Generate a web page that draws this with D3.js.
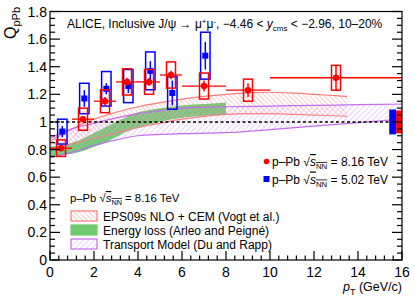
<!DOCTYPE html>
<html>
<head>
<meta charset="utf-8">
<script src="https://cdn.jsdelivr.net/npm/d3@7"></script>
<style>
  body { margin: 0; background: #fff; }
  text { font-family: "Liberation Sans", Arial, sans-serif; }
</style>
</head>
<body>
<script>
'use strict';

// p-Pb 8.16 TeV (red)
let bins816 = [[0, 1], [1, 2], [2, 3], [3, 4], [4, 5], [5, 6], [6, 8], [8, 10], [10, 16]];
let pt816 = [0.5, 1.5, 2.5, 3.5, 4.5, 5.5, 7, 9, 13];
let q816 = [0.81, 1.02, 1.15, 1.29, 1.29, 1.34, 1.26, 1.23, 1.32];
let stat816 = [0.02, 0.02, 0.03, 0.03, 0.03, 0.03, 0.04, 0.05, 0.09];
let sys816 = [0.06, 0.08, 0.083, 0.095, 0.09, 0.095, 0.094, 0.08, 0.09];

// p-Pb 5.02 TeV (blue)
let pt502 = [0.5, 1.5, 2.5, 3.5, 4.5, 5.5, 7];
let q502 = [0.93, 1.17, 1.24, 1.26, 1.37, 1.21, 1.48];
let stat502 = [0.04, 0.06, 0.04, 0.05, 0.07, 0.09, 0.10];
let sys502 = [0.09, 0.11, 0.125, 0.12, 0.137, 0.118, 0.17];

// global uncertainties drawn at the right edge
let globalUnc = [0.09, 0.083];   // 5.02, 8.16

// EPS09s NLO + CEM band
let epsX = [0, 1, 2, 3, 4, 5, 6, 7, 8, 9, 10, 11, 12, 13, 13.5];
let epsHi = [0.86, 0.95, 1.02, 1.07, 1.11, 1.14, 1.165, 1.185, 1.20, 1.21, 1.215, 1.21, 1.20, 1.19, 1.185];
let epsLo = [0.80, 0.84, 0.88, 0.92, 0.96, 0.99, 1.02, 1.04, 1.055, 1.06, 1.06, 1.055, 1.05, 1.045, 1.04];

// energy loss band
let elossX = [0, 0.5, 1, 1.5, 2, 2.5, 3, 3.5, 4, 5, 6, 7, 8];
let elossHi = [0.82, 0.83, 0.85, 0.88, 0.92, 0.96, 1.00, 1.04, 1.07, 1.10, 1.12, 1.13, 1.14];
let elossLo = [0.75, 0.76, 0.77, 0.79, 0.82, 0.85, 0.89, 0.93, 0.96, 1.00, 1.03, 1.045, 1.05];

// transport model band
let transX = [0, 0.5, 1, 2, 3, 4, 5, 6, 8, 10, 12, 14, 16];
let transHi = [0.88, 0.92, 0.95, 0.99, 1.03, 1.06, 1.08, 1.10, 1.11, 1.115, 1.12, 1.125, 1.13];
let transLo = [0.74, 0.76, 0.78, 0.83, 0.87, 0.90, 0.91, 0.915, 0.922, 0.945, 0.97, 0.995, 1.02];

let xTicks = [0, 2, 4, 6, 8, 10, 12, 14, 16];
let yTicks = [0, 0.2, 0.4, 0.6, 0.8, 1, 1.2, 1.4, 1.6, 1.8];

(function () {

  let svg = "";
  let x = null;
  let y = null;

  window.onload = function () {
    svg = d3.select('body')
      .append('svg')
      .attr('width', 415)
      .attr('height', 301);

    x = d3.scaleLinear().domain([0, 16]).range([50, 402]);
    y = d3.scaleLinear().domain([0, 1.8]).range([260, 11.5]);

    makePatterns();
    drawBands();
    drawPoints();
    drawAxes();
    drawLegends();
    makeLabels();
  }

  function makePatterns() {
    let defs = svg.append('defs');
    let p1 = defs.append('pattern')
      .attr('id', 'hatchRed')
      .attr('patternUnits', 'userSpaceOnUse')
      .attr('width', 3.5).attr('height', 3.5)
      .attr('patternTransform', 'rotate(-45)');
    p1.append('line')
      .attr('x1', 0).attr('y1', 0).attr('x2', 0).attr('y2', 3.5)
      .style('stroke', '#ff9a9a').style('stroke-width', 1);

    let p2 = defs.append('pattern')
      .attr('id', 'hatchPurple')
      .attr('patternUnits', 'userSpaceOnUse')
      .attr('width', 4).attr('height', 4)
      .attr('patternTransform', 'rotate(45)');
    p2.append('line')
      .attr('x1', 0).attr('y1', 0).attr('x2', 0).attr('y2', 4)
      .style('stroke', '#d9a2f5').style('stroke-width', 1);
  }

  // filled area + edge lines for a model band
  function band(xs, lo, hi, fill, edge) {
    let rows = xs.map((v, i) => ({ x: v, lo: lo[i], hi: hi[i] }));
    let area = d3.area()
      .x(d => x(d.x)).y0(d => y(d.lo)).y1(d => y(d.hi))
      .curve(d3.curveMonotoneX);
    svg.append('path').datum(rows)
      .attr('d', area)
      .style('fill', fill)
      .style('stroke', 'none');
    if (edge) {
      ['lo', 'hi'].forEach(k => {
        let line = d3.line().x(d => x(d.x)).y(d => y(d[k])).curve(d3.curveMonotoneX);
        svg.append('path').datum(rows)
          .attr('d', line)
          .style('fill', 'none')
          .style('stroke', edge)
          .style('stroke-width', 1.2);
      });
    }
  }

  function drawBands() {
    band(elossX, elossLo, elossHi, '#6fcb6f', null);
    band(epsX, epsLo, epsHi, 'url(#hatchRed)', '#ff7a7a');
    band(transX, transLo, transHi, 'url(#hatchPurple)', '#c56cf0');

    // unity line
    svg.append('line')
      .attr('x1', x(0)).attr('x2', x(16))
      .attr('y1', y(1)).attr('y2', y(1))
      .style('stroke', '#000')
      .style('stroke-width', 1.5)
      .style('stroke-dasharray', '3,2.5');
  }

  function drawPoints() {
    // global uncertainty boxes
    svg.append('rect')
      .attr('x', x(15.42)).attr('width', x(15.73) - x(15.42))
      .attr('y', y(1 + globalUnc[0])).attr('height', y(1 - globalUnc[0]) - y(1 + globalUnc[0]))
      .style('fill', '#0000ff');
    svg.append('rect')
      .attr('x', x(15.73)).attr('width', x(16) - x(15.73))
      .attr('y', y(1 + globalUnc[1])).attr('height', y(1 - globalUnc[1]) - y(1 + globalUnc[1]))
      .style('fill', '#ff0000');

    // 5.02 TeV, slightly shifted in pt
    let shift = 0.06;
    let g5 = svg.append('g');
    pt502.forEach((p, i) => {
      let cx = x(p + shift);
      g5.append('rect')
        .attr('x', cx - 4.7).attr('width', 9.4)
        .attr('y', y(q502[i] + sys502[i]))
        .attr('height', y(q502[i] - sys502[i]) - y(q502[i] + sys502[i]))
        .style('fill', 'none').style('stroke', '#0000ff').style('stroke-width', 1.5);
      g5.append('line')
        .attr('x1', cx).attr('x2', cx)
        .attr('y1', y(q502[i] + stat502[i])).attr('y2', y(q502[i] - stat502[i]))
        .style('stroke', '#0000ff').style('stroke-width', 1.5);
      g5.append('rect')
        .attr('x', cx - 3).attr('y', y(q502[i]) - 3)
        .attr('width', 6).attr('height', 6)
        .style('fill', '#0000ff');
    });

    // 8.16 TeV
    let g8 = svg.append('g');
    pt816.forEach((p, i) => {
      let cx = x(p);
      g8.append('rect')
        .attr('x', cx - 4.5).attr('width', 9)
        .attr('y', y(q816[i] + sys816[i]))
        .attr('height', y(q816[i] - sys816[i]) - y(q816[i] + sys816[i]))
        .style('fill', 'none').style('stroke', '#ff0000').style('stroke-width', 1.5);
      g8.append('line')
        .attr('x1', x(bins816[i][0])).attr('x2', x(bins816[i][1]))
        .attr('y1', y(q816[i])).attr('y2', y(q816[i]))
        .style('stroke', '#ff0000').style('stroke-width', 1.3);
      g8.append('line')
        .attr('x1', cx).attr('x2', cx)
        .attr('y1', y(q816[i] + stat816[i])).attr('y2', y(q816[i] - stat816[i]))
        .style('stroke', '#ff0000').style('stroke-width', 1.5);
      g8.append('circle')
        .attr('cx', cx).attr('cy', y(q816[i])).attr('r', 3.2)
        .style('fill', '#ff0000');
    });
  }

  function drawAxes() {
    // frame
    svg.append('rect')
      .attr('x', x(0)).attr('y', y(1.8))
      .attr('width', x(16) - x(0)).attr('height', y(0) - y(1.8))
      .style('fill', 'none').style('stroke', '#000').style('stroke-width', 1.2);

    let ticks = svg.append('g').style('stroke', '#000').style('stroke-width', 1.2);

    // y ticks, left and right, pointing inward
    d3.range(0, 1.8001, 0.05).forEach(v => {
      let major = Math.abs(v / 0.2 - Math.round(v / 0.2)) < 1e-6;
      let len = major ? 10 : 5;
      ticks.append('line')
        .attr('x1', x(0)).attr('x2', x(0) + len)
        .attr('y1', y(v)).attr('y2', y(v));
      ticks.append('line')
        .attr('x1', x(16)).attr('x2', x(16) - len)
        .attr('y1', y(v)).attr('y2', y(v));
    });

    // x ticks at bottom
    d3.range(0, 16.001, 0.4).forEach(v => {
      let major = Math.abs(v / 2 - Math.round(v / 2)) < 1e-6;
      let len = major ? 9 : 4.5;
      ticks.append('line')
        .attr('x1', x(v)).attr('x2', x(v))
        .attr('y1', y(0)).attr('y2', y(0) - len);
    });

    svg.append('g').selectAll('text')
      .data(yTicks).enter()
      .append('text')
      .attr('x', 47)
      .attr('y', d => y(d) + 5)
      .attr('text-anchor', 'end')
      .style('font-size', '14px')
      .text(d => d3.format('~g')(d));

    svg.append('g').selectAll('text')
      .data(xTicks).enter()
      .append('text')
      .attr('x', d => x(d))
      .attr('y', 276.5)
      .attr('text-anchor', 'middle')
      .style('font-size', '14px')
      .text(d => d);
  }

  // p-Pb sqrt(sNN) = ... label
  function energyLabel(g, xPos, yPos, energy, size) {
    let t = g.append('text')
      .attr('x', xPos).attr('y', yPos)
      .style('font-size', size + 'px');
    t.append('tspan').text('p\u2013Pb \u221A');
    t.append('tspan').style('font-style', 'italic').style('text-decoration', 'overline').text('s');
    t.append('tspan').attr('dy', 3).style('font-size', (size * 0.65) + 'px')
      .style('text-decoration', 'overline').text('NN');
    t.append('tspan').attr('dy', -3).text(' = ' + energy + ' TeV');
    return t;
  }

  function drawLegends() {
    // data legend, top right
    let g = svg.append('g');
    g.append('circle').attr('cx', 266.5).attr('cy', 161.5).attr('r', 2.8).style('fill', '#ff0000');
    energyLabel(g, 272, 166, '8.16', 12);
    g.append('rect').attr('x', 263.5).attr('y', 176).attr('width', 6).attr('height', 6).style('fill', '#0000ff');
    energyLabel(g, 272, 183.5, '5.02', 12);

    // model legend, bottom left
    let m = svg.append('g');
    energyLabel(m, 70, 202, '8.16', 11.3);
    let items = [
      { fill: 'url(#hatchRed)', stroke: '#ff7a7a', label: 'EPS09s NLO + CEM (Vogt et al.)' },
      { fill: '#6fcb6f', stroke: '#6fcb6f', label: 'Energy loss (Arleo and Peign\u00e9)' },
      { fill: 'url(#hatchPurple)', stroke: '#c56cf0', label: 'Transport Model (Du and Rapp)' }
    ];
    items.forEach((d, i) => {
      let yy = 211 + i * 14;
      m.append('rect')
        .attr('x', 71).attr('y', yy)
        .attr('width', 26).attr('height', 10)
        .style('fill', d.fill).style('stroke', d.stroke).style('stroke-width', 1.2);
      m.append('text')
        .attr('x', 103).attr('y', yy + 9.5)
        .style('font-size', '12px')
        .text(d.label);
    });
  }

  function makeLabels() {
    // header
    let t = svg.append('text')
      .attr('x', 67).attr('y', 27.5)
      .style('font-size', '12px');
    t.append('tspan').text('ALICE, Inclusive J/\u03C8 \u2192 \u03BC');
    t.append('tspan').attr('dy', -4).style('font-size', '8px').text('+');
    t.append('tspan').attr('dy', 4).text('\u03BC');
    t.append('tspan').attr('dy', -4).style('font-size', '8px').text('-');
    t.append('tspan').attr('dy', 4).text(', \u22124.46 < ');
    t.append('tspan').style('font-style', 'italic').text('y');
    t.append('tspan').attr('dy', 3).style('font-size', '8px').text('cms');
    t.append('tspan').attr('dy', -3).text(' < \u22122.96, 10\u201320%');

    // y axis title
    let yt = svg.append('text')
      .attr('transform', 'translate(16, 7)rotate(-90)')
      .attr('text-anchor', 'end')
      .style('font-size', '16px');
    yt.append('tspan').text('Q');
    yt.append('tspan').attr('dy', 4).style('font-size', '11px').text('pPb');

    // x axis title
    let xt = svg.append('text')
      .attr('x', 402).attr('y', 291)
      .attr('text-anchor', 'end')
      .style('font-size', '12.5px');
    xt.append('tspan').style('font-style', 'italic').text('p');
    xt.append('tspan').attr('dy', 4).style('font-size', '9px').text('T');
    xt.append('tspan').attr('dy', -4).text(' (GeV/c)');
  }

})();
</script>
</body>
</html>
